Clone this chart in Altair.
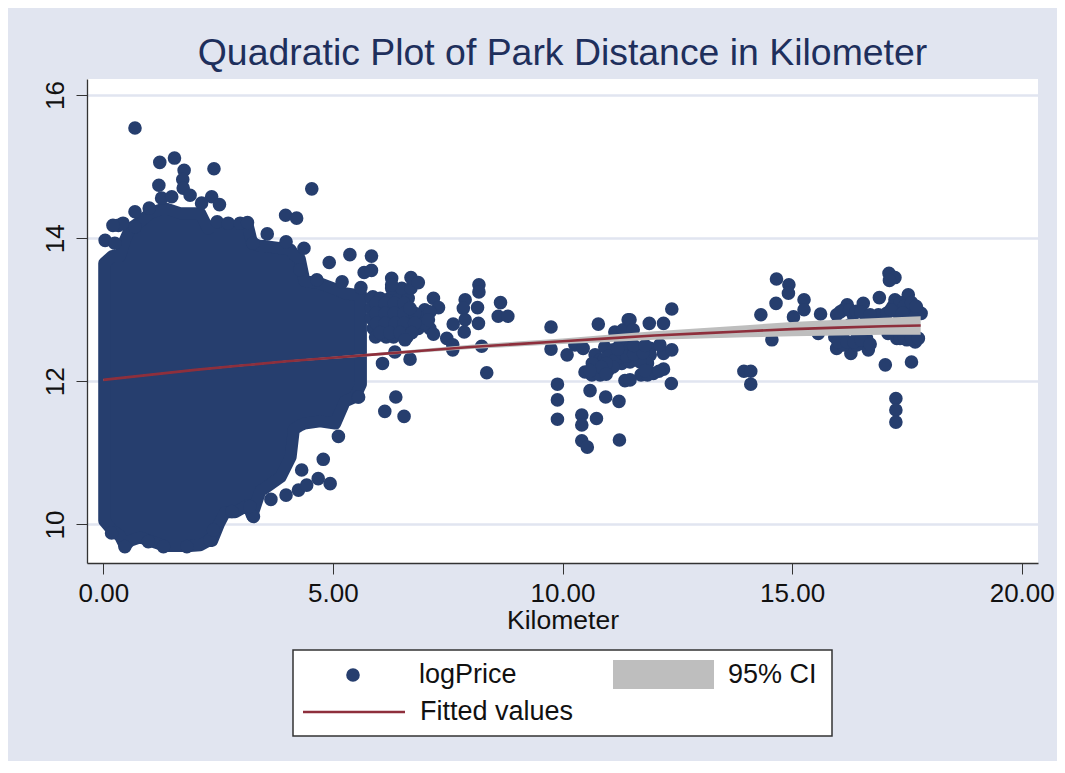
import altair as alt
import pandas as pd

FONT = "Liberation Sans"
NAVY = "#263e6e"
MAROON = "#8e2f3c"
GREY = "#bebebe"
BG = "#e1e5f0"
TITLE_INK = "#1e2f5c"
INK = "#111111"

title_text = "Quadratic Plot of Park Distance in Kilometer"
x_title = "Kilometer"
x_ticks = [0, 5, 10, 15, 20]
y_ticks = [10, 12, 14, 16]

# solid core of the overplotted cloud: x, upper and lower reading
cloud_x = [0.02, 0.19, 0.36, 0.47, 0.58, 0.80, 1.02, 1.34, 1.67, 1.89, 2.11, 2.28, 2.37, 2.52, 2.65, 2.87, 3.15, 3.24,
           3.42, 3.53, 3.86, 4.08, 4.15, 4.28, 4.38, 4.72, 5.05, 5.26, 5.48, 5.61]
cloud_hi = [13.65, 13.75, 13.75, 13.97, 14.13, 14.23, 14.35, 14.42, 14.35, 14.35, 14.35, 14.13, 14.17, 14.17, 14.17, 14.17, 14.17, 13.93,
            13.89, 13.89, 13.86, 13.84, 13.77, 13.71, 13.40, 13.37, 13.29, 13.23, 13.21, 13.23]
cloud_lo = [10.05, 9.92, 9.84, 9.70, 9.77, 9.82, 9.77, 9.70, 9.70, 9.70, 9.71, 9.77, 9.77, 10.01, 10.17, 10.17, 10.27, 10.12,
            10.47, 10.51, 10.66, 10.94, 11.33, 11.38, 11.41, 11.44, 11.41, 11.72, 11.78, 11.96]

# individually visible observations (kilometer, logPrice)
scatter_top = [
    (0.69, 15.54), (1.23, 15.06), (1.55, 15.12), (1.76, 14.95), (2.41, 14.97), (1.73, 14.82), (1.21, 14.74), (1.74, 14.70),
    (4.54, 14.69), (1.27, 14.56), (1.49, 14.58), (1.89, 14.60), (2.36, 14.58), (2.53, 14.47), (2.14, 14.49), (1.00, 14.42),
    (0.69, 14.37), (0.33, 14.18), (0.43, 14.21), (0.21, 14.18), (0.69, 14.16), (0.04, 13.97), (0.25, 13.93), (3.97, 14.32),
    (4.21, 14.28), (2.48, 14.23), (2.72, 14.21), (2.98, 14.21), (3.14, 14.22), (3.57, 14.06), (3.98, 13.95), (4.37, 13.86),
    (4.92, 13.66), (5.37, 13.77), (5.84, 13.75), (5.68, 13.52), (5.84, 13.55), (5.20, 13.39), (5.61, 13.31), (5.87, 13.18),
    (3.26, 13.93), (4.65, 13.42), (4.28, 13.56),
]
scatter_bottom = [
    (0.47, 9.69), (0.98, 9.76), (1.31, 9.69), (1.82, 9.69), (2.32, 9.78), (2.40, 9.92), (0.18, 9.88), (2.80, 10.18),
    (3.27, 10.11), (3.19, 10.25), (3.65, 10.35), (3.98, 10.41), (4.25, 10.48), (4.43, 10.55), (4.68, 10.64), (4.94, 10.57),
    (4.79, 10.91), (4.32, 10.76), (5.12, 11.23), (5.55, 11.78),
]
scatter_shoulder = [
    (5.84, 13.16), (6.03, 13.16), (6.24, 13.16), (6.43, 13.16), (6.64, 13.16),
    (5.84, 13.02), (6.05, 13.02), (6.24, 13.02), (6.50, 13.02), (6.64, 13.02), (7.00, 13.00),
    (5.84, 12.88), (6.05, 12.88), (6.24, 12.88), (6.50, 12.88), (6.64, 12.88), (6.93, 12.88),
    (5.88, 12.74), (6.13, 12.74), (6.32, 12.74), (6.61, 12.74), (6.86, 12.74), (7.11, 12.74), (7.00, 12.81),
    (5.93, 12.62), (6.16, 12.62), (6.32, 12.62), (6.61, 12.62),
    (6.28, 13.30), (6.50, 13.30), (6.70, 13.30),
    (5.94, 13.09), (6.14, 13.09), (6.34, 13.09), (6.55, 13.09),
    (5.94, 12.95), (6.14, 12.95), (6.34, 12.95), (6.55, 12.95), (6.78, 12.95),
    (5.95, 12.81), (6.14, 12.81), (6.36, 12.81), (6.55, 12.81), (6.78, 12.81),
    (6.03, 12.68), (6.24, 12.68), (6.46, 12.68), (6.72, 12.68),
]
scatter_mid = [
    (6.28, 13.44), (6.28, 13.35), (6.70, 13.45), (6.86, 13.38), (7.19, 13.16), (7.30, 13.03), (7.11, 12.97), (7.08, 12.86),
    (7.19, 12.66), (6.68, 13.02), (6.57, 12.58), (6.68, 12.31), (6.08, 12.25), (6.35, 12.41), (6.37, 11.78), (6.13, 11.58),
    (6.55, 11.51), (5.56, 11.78), (8.18, 13.35), (8.18, 13.25), (7.88, 13.14), (7.84, 13.02), (8.15, 13.03), (8.65, 13.10),
    (8.60, 12.91), (8.81, 12.91), (7.62, 12.80), (7.88, 12.86), (8.17, 12.81), (7.86, 12.69), (7.48, 12.60), (7.61, 12.51),
    (7.61, 12.44), (8.24, 12.49), (8.35, 12.12),
]
scatter_ten_to_twelve = [
    (9.75, 12.76), (9.75, 12.45), (10.78, 12.80), (10.10, 12.37), (9.89, 11.96), (9.89, 11.74), (9.89, 11.47), (10.42, 11.53),
    (10.42, 11.39), (10.42, 11.17), (10.54, 11.08), (10.74, 11.48), (10.60, 11.87), (10.94, 11.78), (11.23, 11.72), (11.36, 12.01),
    (11.24, 11.18), (10.27, 12.51), (10.45, 12.46), (10.71, 12.37), (10.49, 12.13), (10.64, 12.09), (10.82, 12.09), (11.00, 12.16),
    (10.74, 12.20), (10.92, 12.48), (11.11, 12.44), (11.29, 12.25), (11.14, 12.69), (11.32, 12.72), (11.43, 12.86), (11.25, 12.51),
    (11.40, 12.48), (11.47, 12.86), (11.54, 12.72), (11.89, 12.81), (12.20, 12.81), (12.38, 13.01), (11.91, 12.46), (11.69, 12.46),
    (11.47, 12.46), (11.65, 12.37), (11.91, 12.37), (12.20, 12.39), (12.38, 12.44), (11.85, 12.25), (12.20, 12.17), (11.98, 12.11),
    (11.71, 12.09), (12.37, 11.97), (11.47, 12.02), (11.03, 12.30), (11.25, 12.33), (11.47, 12.27), (11.69, 12.27), (10.82, 12.30),
    (12.12, 12.51), (10.90, 12.30), (11.00, 12.35), (11.15, 12.30), (11.30, 12.40), (11.40, 12.35), (11.55, 12.38), (11.75, 12.40),
    (11.10, 12.20), (10.95, 12.25), (10.65, 12.25), (10.85, 12.20), (11.20, 12.45), (11.55, 12.50), (11.80, 12.50), (10.60, 12.15),
    (10.95, 12.10), (11.85, 12.09), (12.10, 12.14), (11.80, 12.15),
]
scatter_far = [
    (14.66, 13.43), (14.93, 13.35), (14.92, 13.23), (14.65, 13.09), (15.26, 13.14), (15.26, 13.00), (15.03, 12.90), (14.32, 12.93),
    (14.56, 12.58), (13.95, 12.14), (14.10, 12.14), (14.10, 11.96), (15.62, 12.94), (15.57, 12.67), (16.20, 13.07), (16.55, 13.09),
    (16.90, 13.17), (17.11, 13.51), (17.24, 13.45), (17.12, 13.41), (17.53, 13.21), (17.24, 13.14), (15.97, 12.93), (16.12, 13.00),
    (16.33, 12.93), (16.62, 12.90), (16.88, 12.93), (17.06, 12.95), (17.28, 12.97), (17.50, 13.02), (17.71, 13.02), (17.81, 12.95),
    (17.64, 12.88), (15.97, 12.79), (16.26, 12.79), (16.55, 12.79), (15.93, 12.62), (16.11, 12.60), (16.41, 12.60), (16.62, 12.60),
    (15.97, 12.46), (16.28, 12.39), (16.48, 12.53), (16.66, 12.44), (16.11, 12.51), (16.41, 12.51), (17.03, 12.23), (17.60, 12.27),
    (17.26, 11.76), (17.26, 11.60), (17.26, 11.43), (17.28, 12.60), (17.50, 12.58), (17.68, 12.55), (17.09, 12.67),
    (16.05, 12.97), (16.25, 13.00), (16.40, 12.98), (16.50, 12.97), (16.70, 12.93), (17.20, 13.05), (17.35, 13.10), (17.45, 13.05),
    (17.60, 13.10), (17.70, 13.05), (17.15, 13.00), (17.40, 12.95), (16.00, 12.55), (16.20, 12.55), (16.35, 12.55), (16.50, 12.58),
    (16.70, 12.52), (17.35, 12.60), (17.45, 12.60), (17.60, 12.60), (17.75, 12.60),
]

fit_x = [0, 1, 2, 3, 4, 5, 6, 7, 8, 9, 10, 11, 12, 13, 14, 15, 16, 17, 17.8]
fit_y = [12.02, 12.09, 12.16, 12.22, 12.28, 12.33, 12.38, 12.43, 12.48, 12.52, 12.56, 12.60, 12.64, 12.67, 12.70, 12.73, 12.75, 12.77, 12.78]
ci_lo = [12.01, 12.08, 12.15, 12.21, 12.27, 12.315, 12.36, 12.405, 12.45, 12.485, 12.52, 12.55, 12.58, 12.60, 12.615, 12.63, 12.64, 12.65, 12.65]
ci_hi = [12.03, 12.10, 12.17, 12.23, 12.29, 12.345, 12.40, 12.455, 12.51, 12.555, 12.60, 12.65, 12.70, 12.74, 12.785, 12.83, 12.86, 12.89, 12.91]

legend_labels = ["logPrice", "95% CI", "Fitted values"]
legend_label_x = [332, 641, 333]
legend_label_y = [596, 596, 633]

points = pd.DataFrame(scatter_top + scatter_bottom + scatter_shoulder + scatter_mid + scatter_ten_to_twelve + scatter_far,
                      columns=["km", "logPrice"])
cloud = pd.DataFrame({"km": cloud_x, "hi": cloud_hi, "lo": cloud_lo})
fit = pd.DataFrame({"km": fit_x, "fit": fit_y, "lo": ci_lo, "hi": ci_hi})
labels = pd.DataFrame({"label": legend_labels, "px": legend_label_x, "py": legend_label_y})
one = pd.DataFrame({"k": [0]})

x_scale = alt.Scale(domain=[-0.355, 20.355], nice=False, zero=False)
y_scale = alt.Scale(domain=[9.461, 16.225], nice=False, zero=False)

x_enc = alt.X("km:Q", scale=x_scale, title=x_title,
              axis=alt.Axis(values=x_ticks, format=".2f", grid=False, labelFont=FONT, labelFontSize=26, labelColor=INK,
                            titleFont=FONT, titleFontSize=26.5, titleFontWeight="normal", titleColor=INK, titlePadding=1,
                            tickSize=11, tickColor="#333333", tickWidth=1, domainColor="#333333", domainWidth=1.3,
                            labelPadding=6, labelFlush=False, labelOverlap=False))
y_axis = alt.Axis(values=y_ticks, format="d", grid=True, gridColor=BG, gridWidth=2.5, title=None, labelFont=FONT,
                  labelFontSize=26, labelColor=INK, labelAngle=270, labelAlign="center", labelBaseline="bottom",
                  tickSize=11, tickColor="#333333", tickWidth=1, domainColor="#333333", domainWidth=1.3,
                  labelPadding=8, labelOverlap=False)

cloud_layer = alt.Chart(cloud).mark_area(color=NAVY, stroke=NAVY, strokeWidth=12, strokeJoin="round").encode(
    x=x_enc, y=alt.Y("hi:Q", scale=y_scale, axis=y_axis), y2="lo:Q")
point_layer = alt.Chart(points).mark_point(filled=True, color=NAVY, size=185, opacity=1).encode(
    x=alt.X("km:Q", scale=x_scale), y=alt.Y("logPrice:Q", scale=y_scale))
ci_layer = alt.Chart(fit).mark_area(color=GREY, opacity=1).encode(
    x=alt.X("km:Q", scale=x_scale), y=alt.Y("hi:Q", scale=y_scale), y2="lo:Q")
fit_layer = alt.Chart(fit).mark_line(color=MAROON, strokeWidth=2.6).encode(
    x=alt.X("km:Q", scale=x_scale), y=alt.Y("fit:Q", scale=y_scale))

legend_box = alt.Chart(one).mark_rect(fill="white", stroke="#333333", strokeWidth=1.5).encode(
    x=alt.value(206), x2=alt.value(745), y=alt.value(571), y2=alt.value(657))
legend_dot = alt.Chart(one).mark_point(filled=True, color=NAVY, size=185, opacity=1).encode(
    x=alt.value(266), y=alt.value(596))
legend_swatch = alt.Chart(one).mark_rect(fill=GREY).encode(
    x=alt.value(526), x2=alt.value(627), y=alt.value(581), y2=alt.value(610))
legend_line = alt.Chart(one).mark_rule(color=MAROON, strokeWidth=2.6).encode(
    x=alt.value(216), x2=alt.value(318), y=alt.value(633))
legend_text = alt.Chart(labels).mark_text(font=FONT, fontSize=27, color=INK, align="left", baseline="middle").encode(
    x=alt.X("px:Q", scale=None), y=alt.Y("py:Q", scale=None), text="label:N")

chart = alt.layer(cloud_layer, point_layer, ci_layer, fit_layer,
                  legend_box, legend_dot, legend_swatch, legend_line, legend_text).properties(
    width=951, height=484,
    title=alt.TitleParams(title_text, font=FONT, fontSize=37.4, fontWeight="normal", color=TITLE_INK, anchor="middle", offset=7),
    background=BG,
    padding={"left": 79, "top": 71, "right": 19, "bottom": 198},
    autosize=alt.AutoSizeParams(type="none"),
).configure_view(fill="white", stroke=None)

chart.save("out.html", embed_options={"renderer": "svg", "actions": False})
